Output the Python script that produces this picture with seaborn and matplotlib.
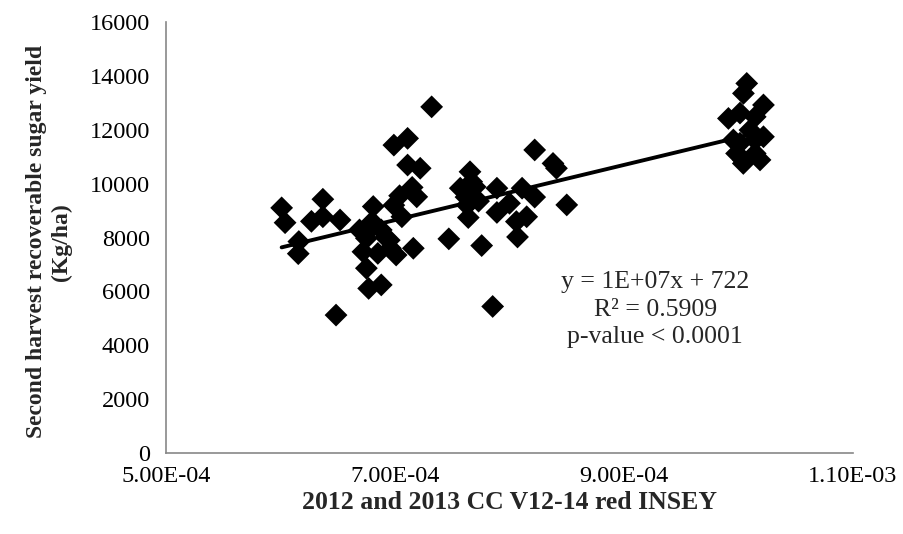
import numpy as np
import pandas as pd
import matplotlib
matplotlib.use("Agg")
import matplotlib.pyplot as plt
import seaborn as sns

insey = [6.01e-4, 6.04e-4, 6.16e-4, 6.155e-4, 6.27e-4, 6.37e-4, 6.37e-4, 6.52e-4, 6.485e-4,
         6.69e-4, 6.80e-4, 6.75e-4, 6.88e-4, 6.95e-4, 6.72e-4, 6.85e-4, 7.01e-4, 7.16e-4,
         6.75e-4, 6.77e-4, 6.88e-4, 6.81e-4, 6.99e-4, 7.11e-4, 7.11e-4, 7.22e-4, 7.32e-4,
         7.19e-4, 7.04e-4, 7.15e-4, 6.99e-4, 7.06e-4, 6.78e-4, 6.92e-4, 6.96e-4,
         7.47e-4, 7.655e-4, 7.57e-4, 7.67e-4, 7.70e-4, 7.64e-4, 7.73e-4, 7.89e-4, 7.89e-4,
         7.757e-4, 8.11e-4, 8.06e-4, 8.15e-4, 8.07e-4, 8.22e-4, 8.22e-4, 8.38e-4, 8.41e-4,
         8.50e-4, 7.853e-4, 8.00e-4, 7.63e-4, 7.62e-4,
         1.0072e-3, 1.0043e-3, 0.9912e-3, 1.0218e-3, 1.0146e-3, 1.0013e-3, 1.0100e-3,
         0.9955e-3, 1.0013e-3, 1.0146e-3, 1.0146e-3, 1.0042e-3, 1.0188e-3, 1.0042e-3,
         0.9983e-3, 1.0218e-3]
yield_kg = [9100, 8550, 7850, 7400, 8600, 9420, 8770, 8650, 5120,
            8280, 8590, 7970, 8280, 7900, 7470, 7410, 7350, 7600,
            6860, 6110, 6240, 9150, 11430, 11680, 10690, 10570, 12850,
            9510, 9550, 9860, 9200, 8770, 8300, 8000, 7600,
            7950, 10440, 9830, 10070, 9880, 8740, 9350, 9830, 8930,
            7700, 9830, 8590, 8770, 8020, 9500, 11250, 10750, 10570,
            9210, 5440, 9270, 9200, 9500,
            13720, 13350, 12420, 12920, 12480, 12620, 11990,
            11620, 11500, 11620, 11120, 10880, 10880, 10750,
            11120, 11740]

df = pd.DataFrame({"insey": insey, "yield": yield_kg})

sns.set_style("white")
plt.rcParams['font.family'] = ['Liberation Serif', 'DejaVu Serif']

fig = plt.figure(figsize=(9.04, 5.34), dpi=100)
ax = fig.add_axes([166/904, 1-453/534, (853-166)/904, (453-22)/534])

sns.regplot(data=df, x="insey", y="yield", ax=ax, ci=None, truncate=True,
            marker="D",
            scatter_kws=dict(s=135, color="black", edgecolors="none", alpha=1),
            line_kws=dict(color="black", lw=2.8))

ax.set_xlim(5.0e-4, 1.1e-3)
ax.set_ylim(0, 16000)
xt = [5.0e-4, 7.0e-4, 9.0e-4, 1.1e-3]
ax.set_xticks(xt)
ax.set_xticklabels(["5.00E-04", "7.00E-04", "9.00E-04", "1.10E-03"])
ax.set_yticks(range(0, 16001, 2000))
ax.set_yticklabels([str(v) for v in range(0, 16001, 2000)])
ax.tick_params(axis='both', labelsize=17.5, colors="#878787", labelcolor="black",
               direction="out", length=4.5, width=1.2)
ax.tick_params(axis='y', pad=7)
ax.tick_params(axis='x', pad=4.5)
for s in ["top", "right"]:
    ax.spines[s].set_visible(False)
for s in ["left", "bottom"]:
    ax.spines[s].set_color("#878787")
    ax.spines[s].set_linewidth(1.2)

ax.set_xlabel("2012 and 2013 CC V12-14 red INSEY", fontsize=18.5, fontweight="bold", labelpad=3)
ax.set_ylabel("Second harvest recoverable sugar yield\n(Kg/ha)", fontsize=17,
              fontweight="bold", linespacing=1.2)
ax.yaxis.set_label_coords(-0.137, 0.49)

ax.text(0.712, 0.332, "y = 1E+07x + 722\nR² = 0.5909\np-value < 0.0001",
        transform=ax.transAxes, ha="center", va="center", fontsize=18.5,
        linespacing=1.32)

fig.savefig("out.png", dpi=100)
